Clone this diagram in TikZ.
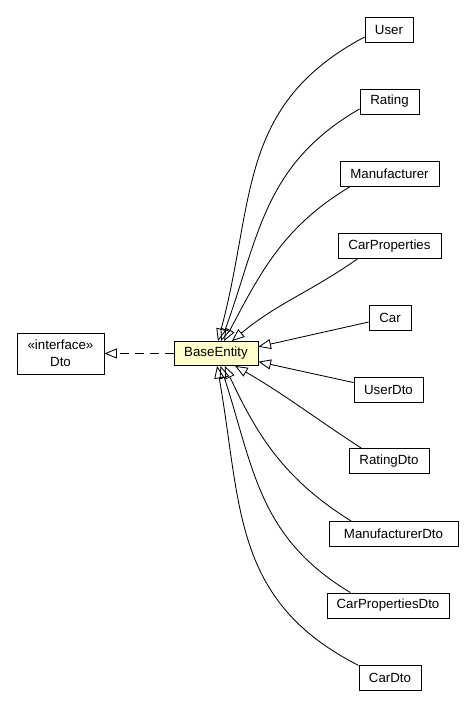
\documentclass[tikz,border=0pt]{standalone}
\usepackage{fontspec}
\setmainfont{Liberation Sans}
\usepackage{tikz}
\usetikzlibrary{arrows.meta}
\definecolor{entityyellow}{RGB}{255,255,204}
\tikzset{
  cls/.style={draw, line width=0.9pt, fill=white, font=\fontsize{13.3}{17}\selectfont, inner sep=0pt, minimum height=25pt, align=center},
  entity/.style={cls, fill=entityyellow},
  inh/.style={-{Triangle[open, length=12.5pt, width=10pt]}, line width=0.85pt},
  impl/.style={inh, dash pattern=on 9pt off 6pt},
}

\begin{document}
\begin{tikzpicture}[x=1pt, y=1pt]
  \useasboundingbox (0,0) rectangle (467,707);
  \node[cls, minimum width=87pt, minimum height=41pt] (dto) at (60.5,353.5) {«interface»\\Dto};
  \node[entity, minimum width=84pt, minimum height=24pt] (baseentity) at (216,353.5) {BaseEntity};
  \node[cls, minimum width=48pt] (user) at (389,677) {User};
  \node[cls, minimum width=59pt] (rating) at (389.5,605.5) {Rating};
  \node[cls, minimum width=99pt] (manufacturer) at (389.5,533) {Manufacturer};
  \node[cls, minimum width=103pt] (carprops) at (389.5,461) {CarProperties};
  \node[cls, minimum width=42pt] (car) at (390,389.5) {Car};
  \node[cls, minimum width=69pt] (userdto) at (388.5,317) {UserDto};
  \node[cls, minimum width=80pt] (ratingdto) at (389,246) {RatingDto};
  \node[cls, minimum width=129pt] (manufacturerdto) at (393.5,173) {ManufacturerDto};
  \node[cls, minimum width=122pt] (carpropsdto) at (388,101.5) {CarPropertiesDto};
  \node[cls, minimum width=62pt] (cardto) at (390,29.5) {CarDto};
  \draw[impl] (baseentity) -- (dto);
  \draw[inh] (user.196) to[out=208, in=75, looseness=1.1] (baseentity.81);
  \draw[inh] (rating.194) to[out=210, in=70, looseness=1.05] (baseentity.68);
  \draw[inh] (manufacturer.198) to[out=211, in=62] (baseentity.57);
  \draw[inh] (carprops.202) to[out=215, in=40] (baseentity.38);
  \draw[inh] (car.192) -- (baseentity.9);
  \draw[inh] (userdto.168) -- (baseentity.-11);
  \draw[inh] (ratingdto.155) to[out=147, in=-30] (baseentity.-33);
  \draw[inh] (manufacturerdto.163) to[out=148, in=-65] (baseentity.-55);
  \draw[inh] (carpropsdto.161) to[out=149, in=-72, looseness=1.05] (baseentity.-70);
  \draw[inh] (cardto.159) to[out=153, in=-80, looseness=1.1] (baseentity.-85);
\end{tikzpicture}
\end{document}
